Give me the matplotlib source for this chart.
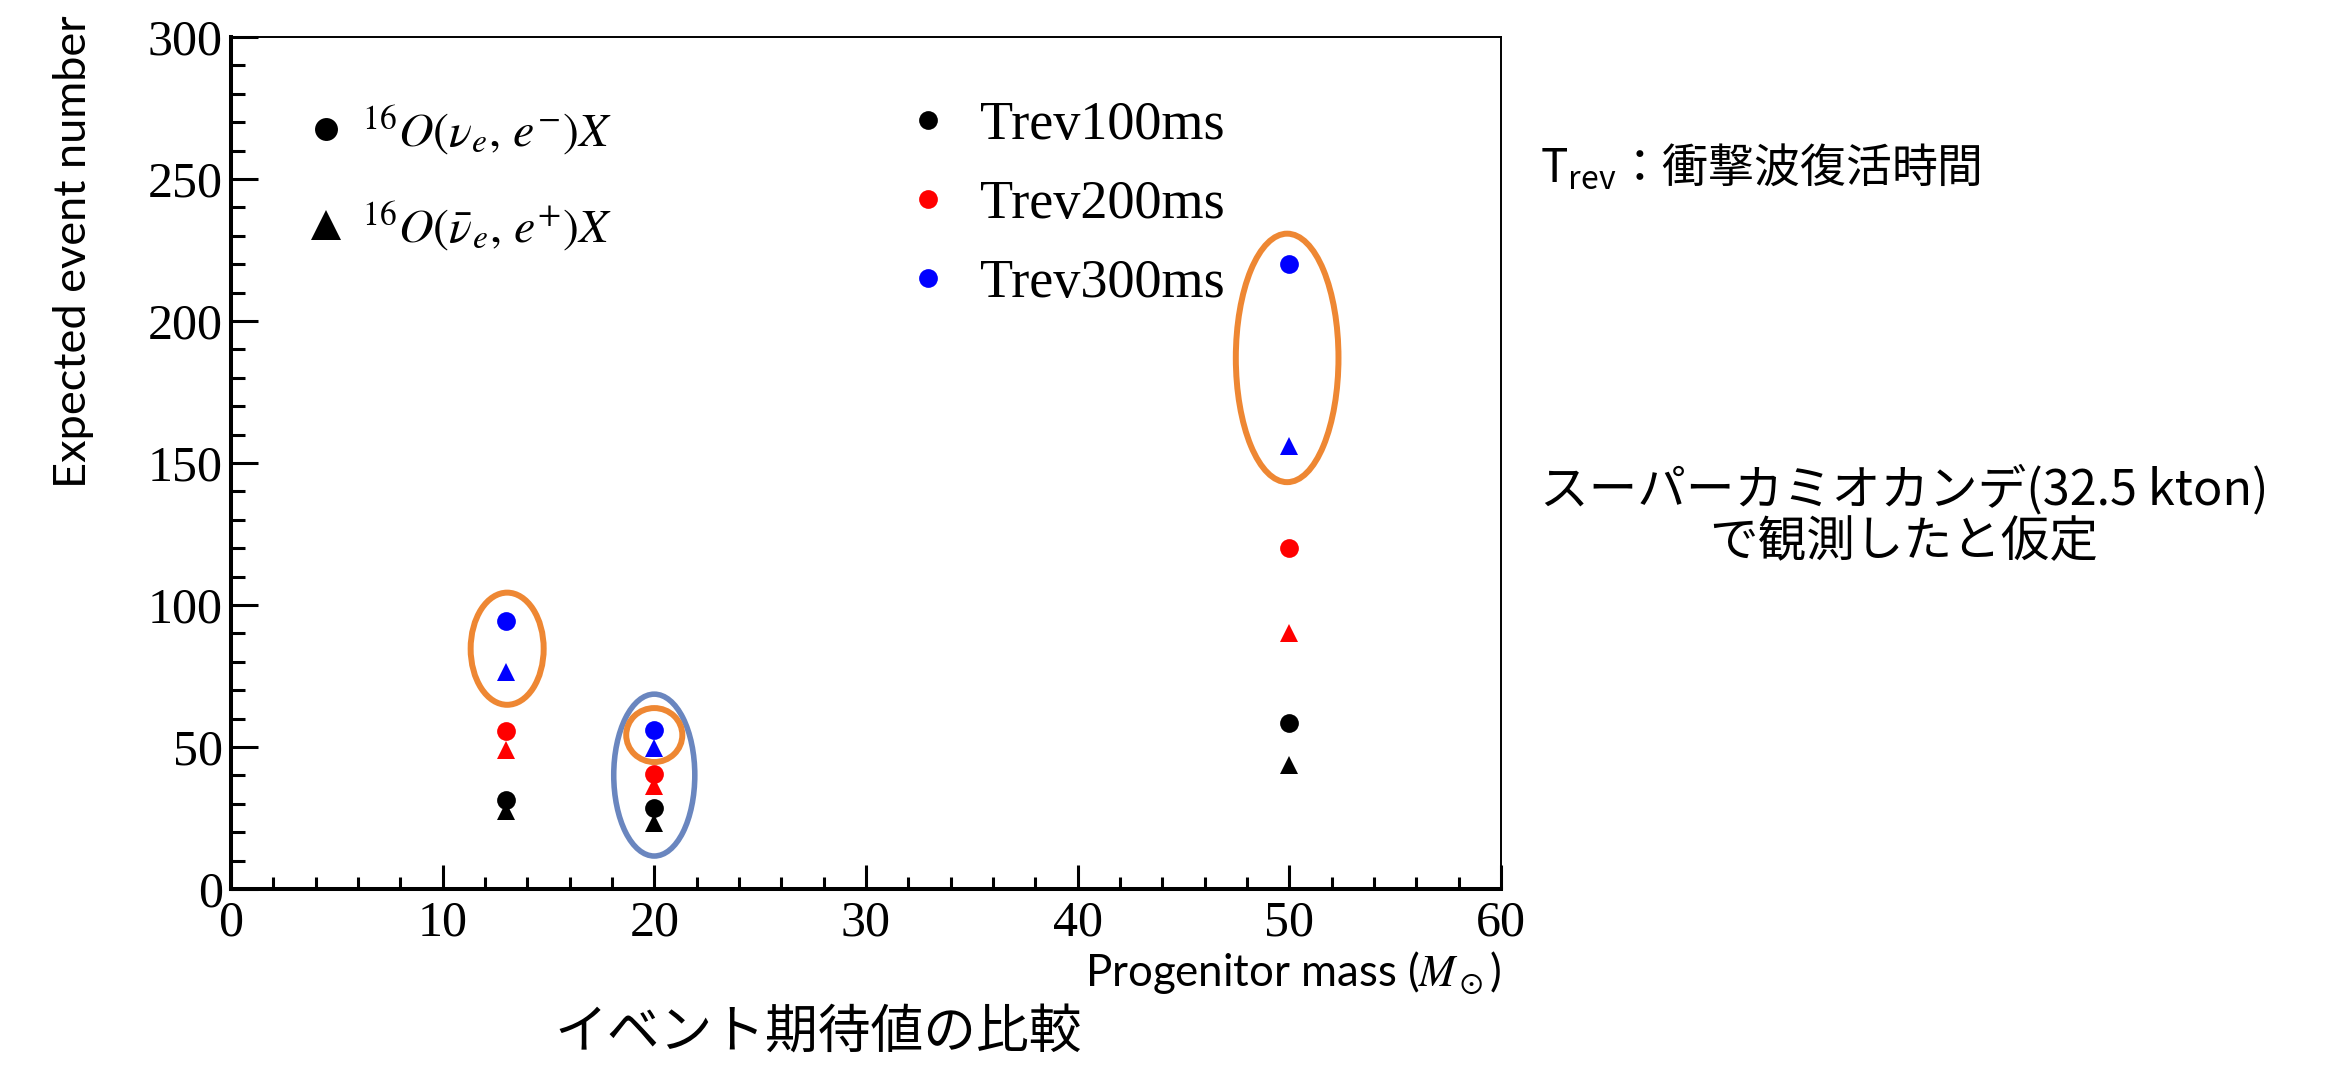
import matplotlib
matplotlib.use("Agg")
import matplotlib.pyplot as plt
from matplotlib.patches import Ellipse
from matplotlib.lines import Line2D
from matplotlib.ticker import MultipleLocator
from matplotlib.font_manager import FontProperties

# progenitor mass (solar masses)
masses = [13, 20, 50]

# expected events for 16O(nu_e, e-)X  -> circles
nue_100 = [31.5, 28.5, 58.5]
nue_200 = [55.5, 40.5, 120.0]
nue_300 = [94.5, 56.0, 220.0]

# expected events for 16O(nubar_e, e+)X  -> triangles
nuebar_100 = [27.5, 23.2, 43.5]
nuebar_200 = [49.0, 36.3, 90.0]
nuebar_300 = [76.5, 49.5, 156.0]

trev_labels = ['Trev100ms', 'Trev200ms', 'Trev300ms']
reaction_labels = [r'$^{16}O(\nu_e,\,e^{-})X$', r'$^{16}O(\bar{\nu}_e,\,e^{+})X$']

jp = ['Noto Sans CJK JP', 'DejaVu Sans']
serif = 'Liberation Serif'

fig = plt.figure(figsize=(23.35, 10.82), dpi=100)
ax = fig.add_axes([0.0989, 0.1784, 0.5439, 0.7874])

colors = ['black', 'red', 'blue']
circle_sets = [nue_100, nue_200, nue_300]
tri_sets = [nuebar_100, nuebar_200, nuebar_300]
handles = []
for c, lab, yc, yt in zip(colors, trev_labels, circle_sets, tri_sets):
    h, = ax.plot(masses, yc, 'o', color=c, ms=13.5, mew=0, label=lab, zorder=3)
    ax.plot(masses, yt, '^', color=c, ms=13.5, mew=0, zorder=3)
    handles.append(h)

# highlight rings drawn on the slide
orange = '#EE8733'
steel = '#6A86BF'
ax.add_patch(Ellipse((13.05, 84.6), 3.45, 39.5, fill=False, ec=orange, lw=4.3, zorder=4))
ax.add_patch(Ellipse((20.0, 40.1), 3.83, 57.0, fill=False, ec=steel, lw=4.0, zorder=4))
ax.add_patch(Ellipse((20.0, 54.2), 2.65, 19.0, fill=False, ec=orange, lw=4.3, zorder=5))
ax.add_patch(Ellipse((49.9, 187.0), 4.85, 87.5, fill=False, ec=orange, lw=4.3, zorder=4))

# axes styling (ROOT-like)
ax.set_xlim(0, 60)
ax.set_ylim(0, 300)
ax.xaxis.set_major_locator(MultipleLocator(10))
ax.xaxis.set_minor_locator(MultipleLocator(2))
ax.yaxis.set_major_locator(MultipleLocator(50))
ax.yaxis.set_minor_locator(MultipleLocator(10))
ax.tick_params(which='both', direction='in', width=2.2, top=False, right=False,
               labelsize=36, labelfontfamily=serif)
ax.tick_params(axis='x', which='major', length=17.3, pad=8)
ax.tick_params(axis='x', which='minor', length=8.6)
ax.tick_params(axis='y', which='major', length=19.4, pad=5.8)
ax.tick_params(axis='y', which='minor', length=10)
for s in ['left', 'bottom']:
    ax.spines[s].set_linewidth(2.9)
for s in ['top', 'right']:
    ax.spines[s].set_linewidth(1.4)

ax.set_xlabel(r'Progenitor mass ($M_\odot$)', fontfamily='Lato', fontsize=31.5,
              math_fontfamily='stix')
ax.xaxis.set_label_coords(1.0, -0.114)
ax.xaxis.label.set_ha('right')
ax.xaxis.label.set_va('baseline')

ax.set_ylabel('Expected event number', fontfamily='Lato', fontsize=32.5)
ax.yaxis.set_label_coords(-0.124, 0.7477)
ax.yaxis.label.set_va('center')

# legends
proxies = [Line2D([], [], ls='', marker='o', color='black', ms=16.5, mew=0),
           Line2D([], [], ls='', marker='^', color='black', ms=21, mew=0)]
leg1 = ax.legend(proxies, reaction_labels, loc='upper left', bbox_to_anchor=(0.0562, 0.9225),
                 frameon=False, prop=FontProperties(family=serif, size=34.5, math_fontfamily='stix'),
                 handlelength=1.0, handletextpad=0.25, labelspacing=0.88,
                 borderpad=0, borderaxespad=0, numpoints=1)
ax.add_artist(leg1)
ax.legend(handles=handles, loc='upper left', bbox_to_anchor=(0.5276, 0.9252),
          frameon=False, prop=FontProperties(family=serif, size=39),
          handlelength=1.0, handletextpad=0.46, labelspacing=0.52,
          borderpad=0, borderaxespad=0, numpoints=1)

# side notes
fig.text(0.6595, 0.8455, r'$\mathregular{T_{rev}}$：衝撃波復活時間', family=jp,
         fontsize=33, ha='left', va='center')
fig.text(0.8154, 0.5471, 'スーパーカミオカンデ(32.5 kton)', family=jp, fontsize=35,
         ha='center', va='center')
fig.text(0.8154, 0.4985, 'で観測したと仮定', family=jp, fontsize=35,
         ha='center', va='center')
fig.text(0.3503, 0.0462, 'イベント期待値の比較', family=jp, fontsize=38,
         ha='center', va='center')

fig.savefig('out.png', dpi=100)
